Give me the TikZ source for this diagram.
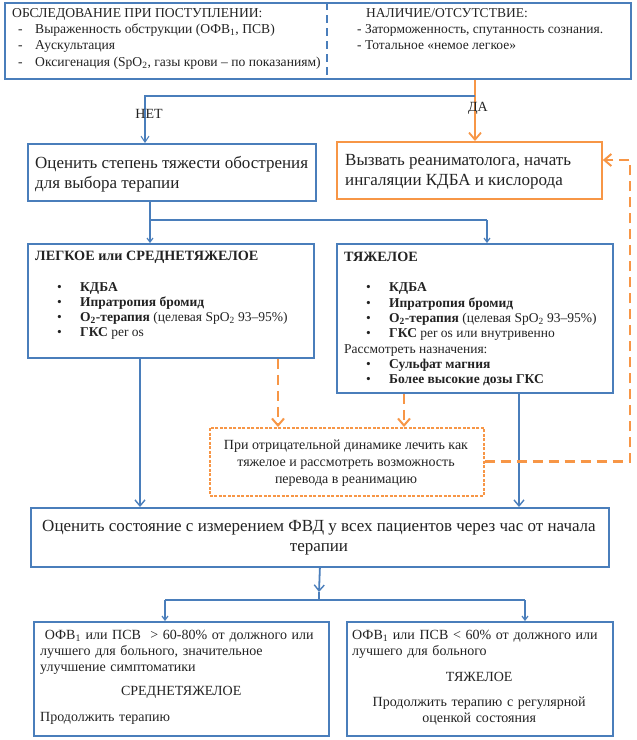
\documentclass[tikz,border=0pt]{standalone}
\usepackage{fontspec}
\setmainfont{Liberation Serif}
\usetikzlibrary{arrows.meta,positioning}

\definecolor{asthblue}{HTML}{4A7EBB}
\definecolor{asthorange}{HTML}{F79646}
\definecolor{asthtext}{HTML}{222222}

\newcommand{\tiret}[1]{\makebox[23pt][l]{\hspace*{6pt}-}#1}
\newcommand{\puce}[1]{\makebox[45pt][l]{\hspace*{22pt}\textbullet}#1}

\tikzset{
  bluebox/.style={draw=asthblue, line width=1.8pt, anchor=north west, inner sep=0pt},
  orangebox/.style={draw=asthorange, line width=1.8pt, anchor=north west, inner sep=0pt},
  dashbox/.style={draw=asthorange, line width=1.5pt, dash pattern=on 3pt off 1.5pt, anchor=north west, inner sep=0pt},
  txt/.style={anchor=north west, inner sep=0pt, align=left, text=asthtext, font=\fontsize{14}{16.3}\selectfont},
  bigtxt/.style={txt, font=\fontsize{17}{20}\selectfont},
  divider/.style={draw=asthblue, line width=1.4pt, dash pattern=on 8pt off 5pt},
  blueline/.style={draw=asthblue, line width=1.8pt},
  bluearrow/.style={blueline, -{Straight Barb[length=6pt,width=10pt,line width=1.4pt]}},
  shortarrow/.style={blueline, -{Straight Barb[length=4pt,width=6pt,line width=1.2pt]}},
  thinarrow/.style={draw=asthblue, line width=1.1pt, -{Straight Barb[length=6pt,width=8pt,line width=1pt]}},
  orangearrow/.style={draw=asthorange, line width=2.2pt, -{Straight Barb[length=7pt,width=12pt,line width=1.8pt]}},
  orangedash/.style={draw=asthorange, line width=2.8pt, dash pattern=on 10pt off 6pt},
  orangedasharrow/.style={orangedash, -{Straight Barb[length=7pt,width=12pt,line width=2pt]}}
}

\begin{document}
\begin{tikzpicture}[x=1pt,y=-1pt]
\useasboundingbox (0,0) rectangle (637,740);

% boxes
\node[bluebox, minimum width=626pt, minimum height=76pt] (exam) at (4,2) {};
\node[bluebox, minimum width=288pt, minimum height=57pt] (assess) at (27,143) {};
\node[orangebox, minimum width=265pt, minimum height=57pt] (call) at (336,141) {};
\node[bluebox, minimum width=286pt, minimum height=114pt] (mild) at (27,243) {};
\node[bluebox, minimum width=276pt, minimum height=149pt] (severe) at (336,243) {};
\node[dashbox, minimum width=274pt, minimum height=68pt] (warn) at (209,427) {};
\node[bluebox, minimum width=578pt, minimum height=59pt] (reassess) at (30,507) {};
\node[bluebox, minimum width=295pt, minimum height=114pt] (better) at (33,621) {};
\node[bluebox, minimum width=266pt, minimum height=114pt] (worse) at (346,621) {};

% split of the first box
\coordinate (divtop) at (327,2);
\coordinate (divbot) at (327,78);
\draw[divider] (divtop) -- (divbot);

% texts
\node[txt, font=\fontsize{13.6}{16.3}\selectfont] (examtxt) at (12,8) {ОБСЛЕДОВАНИЕ ПРИ ПОСТУПЛЕНИИ:\\
  \tiret{Выраженность обструкции (ОФВ\textsubscript{1}, ПСВ)}\\
  \tiret{Аускультация}\\
  \tiret{Оксигенация (SpO\textsubscript{2}, газы крови -- по показаниям)}};
\node[txt, font=\fontsize{13.5}{16.3}\selectfont] (signstxt) at (357,8) {\hspace*{9pt}НАЛИЧИЕ/ОТСУТСТВИЕ:\\
  - Заторможенность, спутанность сознания.\\
  - Тотальное «немое легкое»};
\node[bigtxt] (assesstxt) at (35,156) {Оценить степень тяжести обострения\\для выбора терапии};
\node[bigtxt] (calltxt) at (345,154) {Вызвать реаниматолога, начать\\ингаляции КДБА и кислорода};
\node[txt, font=\fontsize{13.5}{15}\selectfont] (mildtxt) at (35,251) {\textbf{\fontsize{14.2}{15}\selectfont ЛЕГКОЕ или СРЕДНЕТЯЖЕЛОЕ}\\[16pt]
  \puce{\textbf{КДБА}}\\
  \puce{\textbf{Ипратропия бромид}}\\
  \puce{\textbf{O\textsubscript{2}-терапия} (целевая SpO\textsubscript{2} 93--95\%)}\\
  \puce{\textbf{ГКС} per os}};
\node[txt, font=\fontsize{13.5}{15.3}\selectfont] (severetxt) at (344,252) {\textbf{\fontsize{14.2}{15}\selectfont ТЯЖЕЛОЕ}\\[15pt]
  \puce{\textbf{КДБА}}\\
  \puce{\textbf{Ипратропия бромид}}\\
  \puce{\textbf{O\textsubscript{2}-терапия} (целевая SpO\textsubscript{2} 93--95\%)}\\
  \puce{\textbf{ГКС} per os или внутривенно}\\
  Рассмотреть назначения:\\
  \puce{\textbf{Сульфат магния}}\\
  \puce{\textbf{Более высокие дозы ГКС}}};
\node[txt, anchor=north, align=center, font=\fontsize{14}{17}\selectfont] (warntxt) at (346,440) {При отрицательной динамике лечить как\\
  тяжелое и рассмотреть возможность\\перевода в реанимацию};
\node[bigtxt, anchor=north, align=center] (reassesstxt) at (319,520) {Оценить состояние с измерением ФВД у всех пациентов через час от начала\\терапии};
\node[txt, text width=282pt, font=\fontsize{14}{16}\selectfont] (bettertxt) at (40,630) {%
  \makebox[\linewidth][s]{\ ОФВ\textsubscript{1} или ПСВ \ > 60-80\% от должного или}\\
  \makebox[\linewidth][s]{лучшего для больного, значительное}\\
  улучшение симптоматики\\[8pt]
  \makebox[\linewidth][c]{СРЕДНЕТЯЖЕЛОЕ}\\[10pt]
  Продолжить терапию};
\node[txt, text width=254pt, font=\fontsize{14}{16}\selectfont] (worsetxt) at (352,630) {%
  \makebox[\linewidth][s]{ОФВ\textsubscript{1} или ПСВ < 60\% от должного или}\\
  лучшего для больного\\[10pt]
  \makebox[\linewidth][c]{ТЯЖЕЛОЕ}\\[9pt]
  \makebox[\linewidth][c]{Продолжить терапию с регулярной}\\
  \makebox[\linewidth][c]{оценкой состояния}};

% yes / no
\coordinate (fork) at (475,96);
\coordinate (netturn) at (145,96);
\draw[orangearrow] (exam.south -| fork) -- (call.north -| fork);
\draw[thinarrow] (fork) -- (netturn) -- (assess.north -| netturn);
\node[txt, anchor=center] (net) at (149,114) {НЕТ};
\node[txt, anchor=center] (da) at (478,108) {ДА};

% severity split
\coordinate (splitL) at (150,220);
\coordinate (splitR) at (487,220);
\draw[blueline] (assess.south -| splitL) -- (splitL) -- (splitR);
\draw[shortarrow] (splitL) -- (mild.north -| splitL);
\draw[shortarrow] (splitR) -- (severe.north -| splitR);

% towards reassessment
\coordinate (mildout) at (140,400);
\coordinate (sevout) at (519,400);
\draw[bluearrow] (mild.south -| mildout) -- (reassess.north -| mildout);
\draw[bluearrow] (severe.south -| sevout) -- (reassess.north -| sevout);

% worsening
\coordinate (mildwarn) at (278,400);
\coordinate (sevwarn) at (404,400);
\coordinate (backup) at (630,160);
\draw[orangedasharrow] (mild.south -| mildwarn) -- (warn.north -| mildwarn);
\draw[orangedasharrow] (severe.south -| sevwarn) -- (warn.north -| sevwarn);
\draw[orangedasharrow] (warn.east) -| (backup) -- (call.east |- backup);

% outcome
\coordinate (outtip) at (319,592);
\coordinate (outfork) at (319,600);
\coordinate (outL) at (165,600);
\coordinate (outR) at (525,600);
\draw[bluearrow] (reassess.south) -- (outtip);
\draw[blueline] (outtip) -- (outfork) (outL) -- (outR);
\draw[shortarrow] (outL) -- (better.north -| outL);
\draw[shortarrow] (outR) -- (worse.north -| outR);
\end{tikzpicture}
\end{document}
